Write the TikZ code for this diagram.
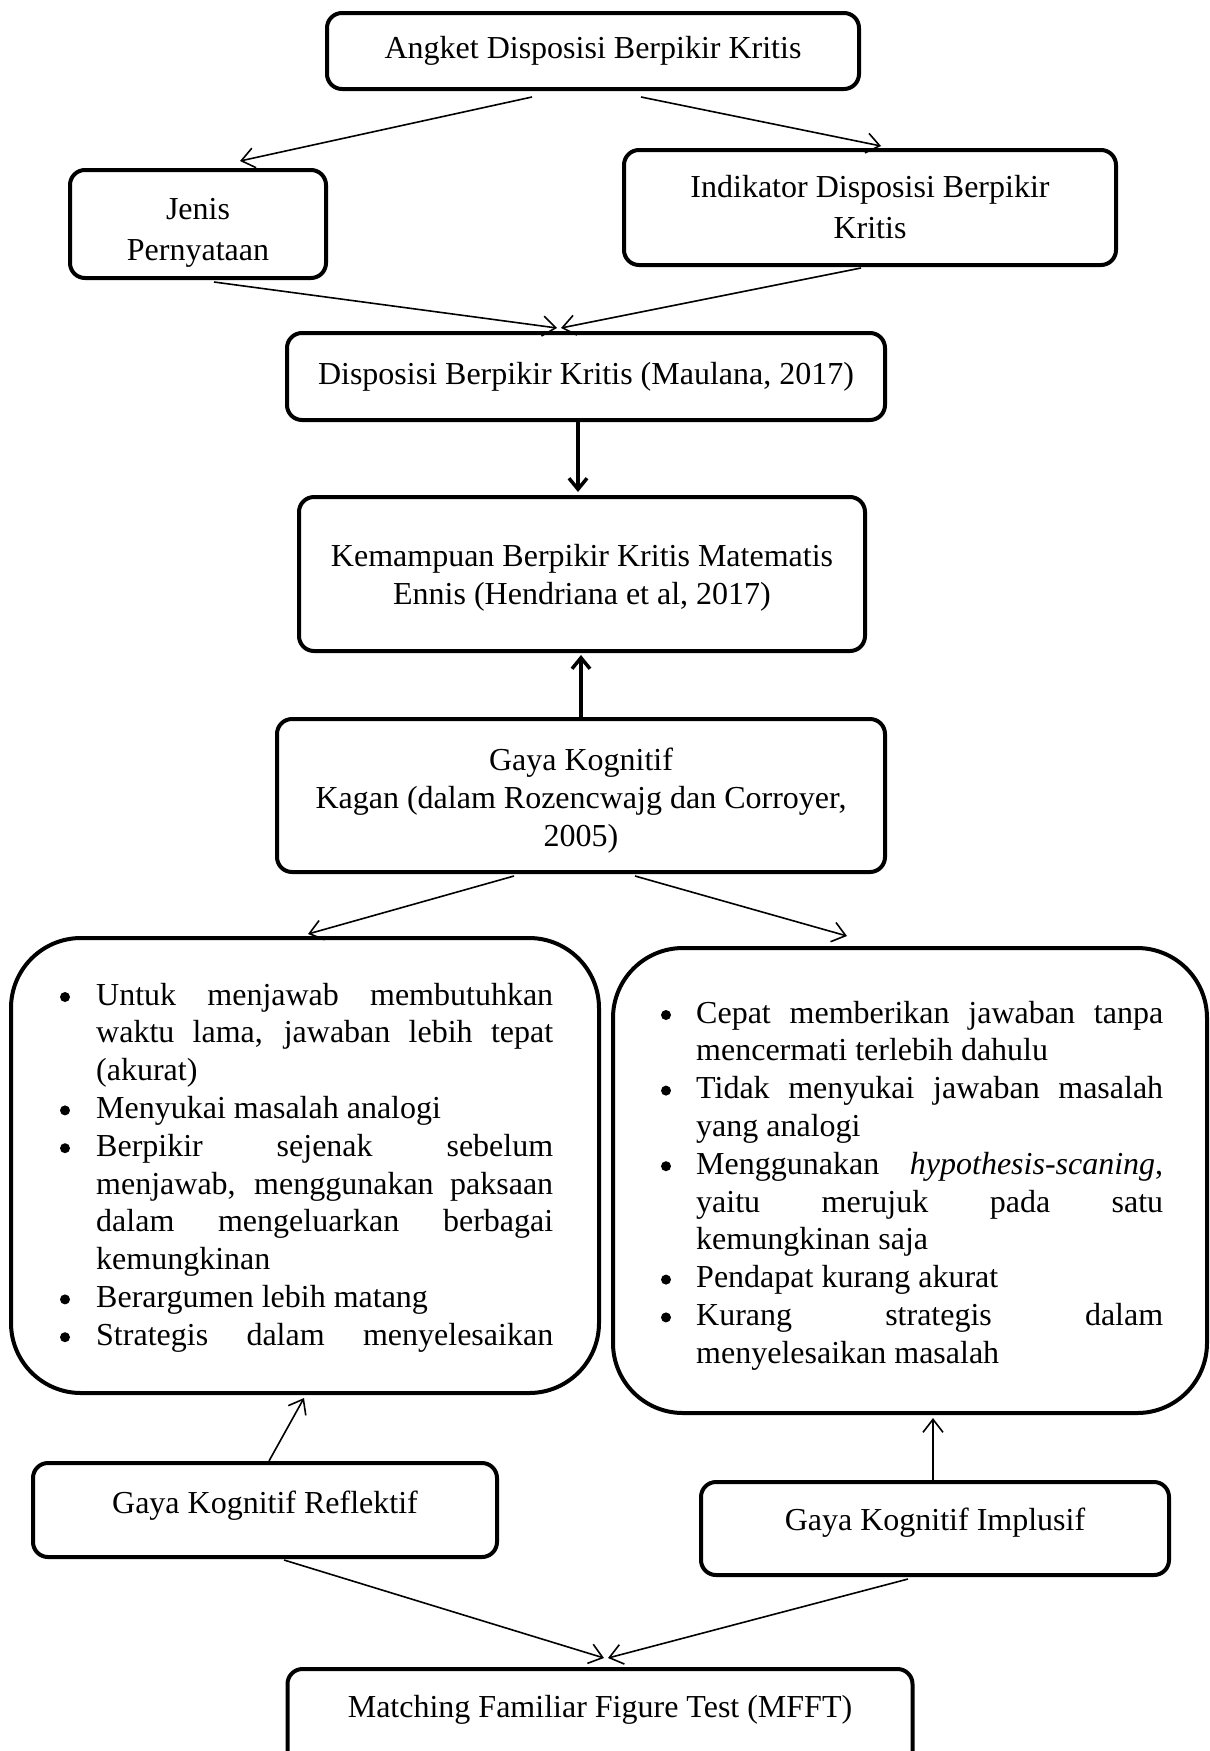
\documentclass[tikz,border=0pt]{standalone}
\usepackage{fontspec}
\setmainfont{Liberation Serif}
\usetikzlibrary{arrows.meta}
\newcommand\jline[2]{\makebox[#1][s]{#2}}
\newcommand\topstrut[1]{\rule{0pt}{#1}}
\begin{document}
\begin{tikzpicture}[x=1pt,y=-1pt,
  box/.style={draw, line width=4pt, rounded corners=15pt, align=center, inner sep=0pt,
    font=\fontsize{32}{39}\selectfont},
  bigbox/.style={draw, line width=4pt, rounded corners=70pt, inner sep=0pt},
  conn/.style={line width=1.6pt, -{Straight Barb[length=13pt,width=20pt]}},
  thickconn/.style={line width=3.5pt, -{Straight Barb[length=11pt,width=18pt]}},
  txt/.style={inner sep=0pt, anchor=base west, font=\fontsize{32}{37.8}\selectfont},
  dot/.style={fill=black}
]
\useasboundingbox (0,0) rectangle (1210,1751);
\clip (0,0) rectangle (1210,1751);

\node[box, minimum width=532pt, minimum height=76pt] (angket) at (593,51) {Angket Disposisi Berpikir Kritis};
\node[box, minimum width=256pt, minimum height=108pt, font=\fontsize{32}{41}\selectfont] (jenis) at (198,224) {\topstrut{38pt}Jenis\\Pernyataan};
\node[box, minimum width=492pt, minimum height=115pt, font=\fontsize{32}{41}\selectfont] (indikator) at (870,207.5) {Indikator Disposisi Berpikir\\Kritis};
\node[box, minimum width=598pt, minimum height=87pt] (disposisi) at (586,376.5) {Disposisi Berpikir Kritis (Maulana, 2017)};
\node[box, minimum width=566pt, minimum height=154pt, font=\fontsize{32}{38}\selectfont] (kemampuan) at (582,574) {\topstrut{30pt}Kemampuan Berpikir Kritis Matematis\\Ennis (Hendriana et al, 2017)};
\node[box, minimum width=608pt, minimum height=153pt, font=\fontsize{32}{38}\selectfont] (gaya) at (581,795.5) {\topstrut{32pt}Gaya Kognitif\\Kagan (dalam Rozencwajg dan Corroyer,\\2005)};

\node[bigbox, minimum width=588pt, minimum height=455pt] (left) at (305,1165.5) {};
\node[bigbox, minimum width=594pt, minimum height=465pt] (right) at (910,1180.5) {};

\node[txt] (lefttext) at (96,1005) {\begin{tabular}[t]{@{}l@{}}
\jline{457pt}{Untuk menjawab membutuhkan}\\
\jline{457pt}{waktu lama, jawaban lebih tepat}\\
(akurat)\\
Menyukai masalah analogi\\
\jline{457pt}{Berpikir sejenak sebelum}\\
\jline{457pt}{menjawab, menggunakan paksaan}\\
\jline{457pt}{dalam mengeluarkan berbagai}\\
kemungkinan\\
Berargumen lebih matang\\
\jline{457pt}{Strategis dalam menyelesaikan}
\end{tabular}};
\foreach \b in {1005,1118.4,1156.2,1307.4,1345.2} \fill[dot] (65,\b-8) circle (5);

\node[txt] (righttext) at (696,1023) {\begin{tabular}[t]{@{}l@{}}
\jline{467pt}{Cepat memberikan jawaban tanpa}\\
mencermati terlebih dahulu\\
\jline{467pt}{Tidak menyukai jawaban masalah}\\
yang analogi\\
\jline{467pt}{Menggunakan \textit{hypothesis-scaning},}\\
\jline{467pt}{yaitu merujuk pada satu}\\
kemungkinan saja\\
Pendapat kurang akurat\\
\jline{467pt}{Kurang strategis dalam}\\
menyelesaikan masalah
\end{tabular}};
\foreach \b in {1023,1098.6,1174.2,1287.6,1325.4} \fill[dot] (666,\b-8) circle (5);

\node[box, minimum width=464pt, minimum height=94pt, text depth=15pt] (reflektif) at (265,1510) {Gaya Kognitif Reflektif};
\node[box, minimum width=468pt, minimum height=93pt, text depth=19pt] (implusif) at (935,1528.5) {Gaya Kognitif Implusif};
\node[box, anchor=north, minimum width=625pt, minimum height=100pt, text height=22pt, text depth=26pt] (mfft) at (600,1667) {Matching Familiar Figure Test (MFFT)};

\draw[conn] ([xshift=-61pt,yshift=-6pt]angket.south) -- ([xshift=42pt,yshift=7pt]jenis.north);
\draw[conn] ([xshift=48pt,yshift=-6pt]angket.south) -- ([xshift=11pt,yshift=2pt]indikator.north);
\draw[conn] ([xshift=16pt,yshift=-2pt]jenis.south) -- ([xshift=-29pt,yshift=3pt]disposisi.north);
\draw[conn] ([xshift=-9pt,yshift=-1pt]indikator.south) -- ([xshift=-25pt,yshift=3pt]disposisi.north);
\draw[thickconn] ([xshift=-8pt]disposisi.south) -- ([xshift=-4pt,yshift=3pt]kemampuan.north);
\draw[thickconn] (gaya.north) -- ([xshift=-1pt,yshift=-2pt]kemampuan.south);
\draw[conn] ([xshift=-67pt,yshift=-2pt]gaya.south) -- ([xshift=3pt,yshift=2pt]left.north);
\draw[conn] ([xshift=54pt,yshift=-2pt]gaya.south) -- ([xshift=-63pt,yshift=10pt]right.north);
\draw[conn] ([xshift=4pt]reflektif.north) -- ([xshift=-1pt,yshift=-3pt]left.south);
\draw[conn] ([xshift=-2pt]implusif.north) -- ([xshift=23pt,yshift=-3pt]right.south);
\draw[conn] ([xshift=19pt,yshift=-1pt]reflektif.south) -- ([xshift=4pt,yshift=9pt]mfft.north);
\draw[conn] ([xshift=-27pt,yshift=-2pt]implusif.south) -- ([xshift=8pt,yshift=9pt]mfft.north);
\end{tikzpicture}
\end{document}
